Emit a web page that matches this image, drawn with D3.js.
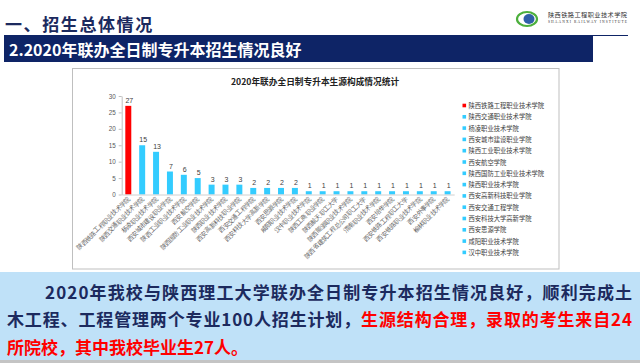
<!DOCTYPE html>
<html>
<head>
<meta charset="utf-8">
<script src="https://cdn.jsdelivr.net/npm/d3@7"></script>
<style>
  body { margin: 0; background: #fff; }
  svg { display: block; font-family: "Noto Sans CJK SC", "Noto Sans", sans-serif; }
</style>
</head>
<body>
<svg id="page" width="640" height="363"></svg>
<script>
// chart data
const categories = [
  "陕西铁路工程职业技术学院", "陕西交通职业技术学院", "杨凌职业技术学院", "西安城市建设职业学院",
  "陕西工业职业技术学院", "西安航空学院", "陕西国防工业职业技术学院", "陕西职业技术学院",
  "西安高新科技职业学院", "西安交通工程学院", "西安科技大学高新学院", "西安思源学院",
  "咸阳职业技术学院", "汉中职业技术学院", "陕西工商职业学院", "陕西航天职工大学",
  "陕西能源职业技术学院", "陕西省建筑工程总公司职工大学", "渭南职业技术学院", "西安培华学院",
  "西安铁路工程职工大学", "西安铁路职业技术学院", "西安外事学院", "榆林职业技术学院"
]
const values = [27, 15, 13, 7, 6, 5, 3, 3, 3, 2, 2, 2, 2, 1, 1, 1, 1, 1, 1, 1, 1, 1, 1, 1]
const yTicks = [0, 5, 10, 15, 20, 25, 30]
const legendCount = 14   // legend is cut off after 14 entries

const red = "#ff0000", blue = "#33ccff", navy = "#0e2466", textNavy = "#1c2a5e"

const svg = d3.select("#page")

// ---- page header ----
svg.append("text").attr("x", 5).attr("y", 31)
  .attr("font-size", 17).attr("font-weight", "bold").attr("fill", textNavy)
  .attr("letter-spacing", 1.6).text("一、招生总体情况")

// logo
const logo = svg.append("g")
logo.append("ellipse").attr("cx", 527).attr("cy", 19).attr("rx", 10).attr("ry", 7)
  .attr("fill", "none").attr("stroke", "#4caf3c").attr("stroke-width", 2.2)
logo.append("ellipse").attr("cx", 529).attr("cy", 19).attr("rx", 5.5).attr("ry", 5)
  .attr("fill", "#2f5fa8")
logo.append("text").attr("x", 548).attr("y", 17).attr("font-size", 6.2).attr("fill", "#333")
  .attr("textLength", 79).text("陕西铁路工程职业技术学院")
logo.append("text").attr("x", 548).attr("y", 23).attr("font-size", 3.6).attr("fill", "#333")
  .attr("font-family", "Liberation Serif").attr("textLength", 79).text("SHAANXI RAILWAY INSTITUTE")

// banner
svg.append("line").attr("x1", 4).attr("x2", 628).attr("y1", 35.5).attr("y2", 35.5)
  .attr("stroke", navy).attr("stroke-width", 1)
svg.append("rect").attr("x", 4).attr("y", 35).attr("width", 589).attr("height", 27).attr("fill", navy)
svg.append("text").attr("x", 9).attr("y", 55.5)
  .attr("font-size", 16).attr("font-weight", "bold").attr("fill", "#fff")
  .text("2.2020年联办全日制专升本招生情况良好")

// ---- chart box ----
svg.append("rect").attr("x", 72.5).attr("y", 68.5).attr("width", 486.5).attr("height", 200.5)
  .attr("fill", "#fff").attr("stroke", "#bfbfbf").attr("stroke-width", 1)

svg.append("text").attr("x", 315).attr("y", 84.5).attr("text-anchor", "middle")
  .attr("font-size", 8.7).attr("font-weight", "bold").attr("fill", "#222")
  .text("2020年联办全日制专升本生源构成情况统计")

const x = d3.scaleBand().domain(categories).range([121.7, 454.2])
  .paddingInner(0.57).paddingOuter(0.26)
const y = d3.scaleLinear().domain([0, 30]).range([194.5, 96])

const gy = svg.append("g").attr("transform", "translate(121.7,0)")
  .call(d3.axisLeft(y).tickValues(yTicks).tickSize(3).tickSizeOuter(0).tickPadding(3))
gy.select(".domain").attr("stroke", "#bfbfbf")
gy.selectAll(".tick line").attr("stroke", "#bfbfbf")
gy.selectAll(".tick text").attr("font-size", 6.3).attr("fill", "#595959")
  .attr("font-family", "Liberation Sans")

svg.append("g").selectAll("rect").data(values).join("rect")
  .attr("x", (d, i) => x(categories[i]))
  .attr("y", d => y(d))
  .attr("width", x.bandwidth())
  .attr("height", d => y(0) - y(d))
  .attr("fill", (d, i) => i === 0 ? red : blue)

svg.append("g").selectAll("text").data(values).join("text")
  .attr("x", (d, i) => x(categories[i]) + x.bandwidth() / 2 + 1)
  .attr("y", d => y(d) - 3)
  .attr("text-anchor", "middle").attr("font-size", 7).attr("fill", "#404040")
  .attr("font-family", "Liberation Sans")
  .text(d => d)

const gx = svg.append("g").attr("transform", `translate(0,${y(0)})`)
  .call(d3.axisBottom(x).tickSize(0).tickSizeOuter(0).tickPadding(0))
gx.select(".domain").attr("stroke", "#d0d0d0")
gx.selectAll(".tick text")
  .attr("font-size", 6.3).attr("fill", "#595959")
  .attr("text-anchor", "end").attr("dy", 0)
  .attr("transform", "translate(2,5) rotate(-45)")

// legend
const legend = svg.append("g").selectAll("g").data(categories.slice(0, legendCount)).join("g")
  .attr("transform", (d, i) => `translate(462.5,${105.7 + i * 11.3})`)
legend.append("rect").attr("x", 0).attr("y", -2).attr("width", 3.6).attr("height", 3.6)
  .attr("fill", (d, i) => i === 0 ? red : blue)
legend.append("text").attr("x", 6).attr("y", 2.3).attr("font-size", 6.3).attr("fill", "#404040")
  .text(d => d)

// ---- summary text ----
svg.append("rect").attr("x", 0).attr("y", 272).attr("width", 640).attr("height", 88).attr("fill", "#bfe1f8")
svg.append("rect").attr("x", 0).attr("y", 360).attr("width", 640).attr("height", 3).attr("fill", "#c4c4c4")

const body = svg.append("g").attr("font-size", 17).attr("font-weight", "bold")
body.append("text").attr("x", 45).attr("y", 299).attr("fill", textNavy)
  .attr("textLength", 587).attr("lengthAdjust", "spacing")
  .text("2020年我校与陕西理工大学联办全日制专升本招生情况良好，顺利完成土")
const l2 = body.append("text").attr("x", 7).attr("y", 326)
  .attr("textLength", 625).attr("lengthAdjust", "spacing")
l2.append("tspan").attr("fill", textNavy).text("木工程、工程管理两个专业100人招生计划，")
l2.append("tspan").attr("fill", red).text("生源结构合理，录取的考生来自24")
body.append("text").attr("x", 7).attr("y", 354).attr("fill", red)
  .text("所院校，其中我校毕业生27人。")
</script>
</body>
</html>
